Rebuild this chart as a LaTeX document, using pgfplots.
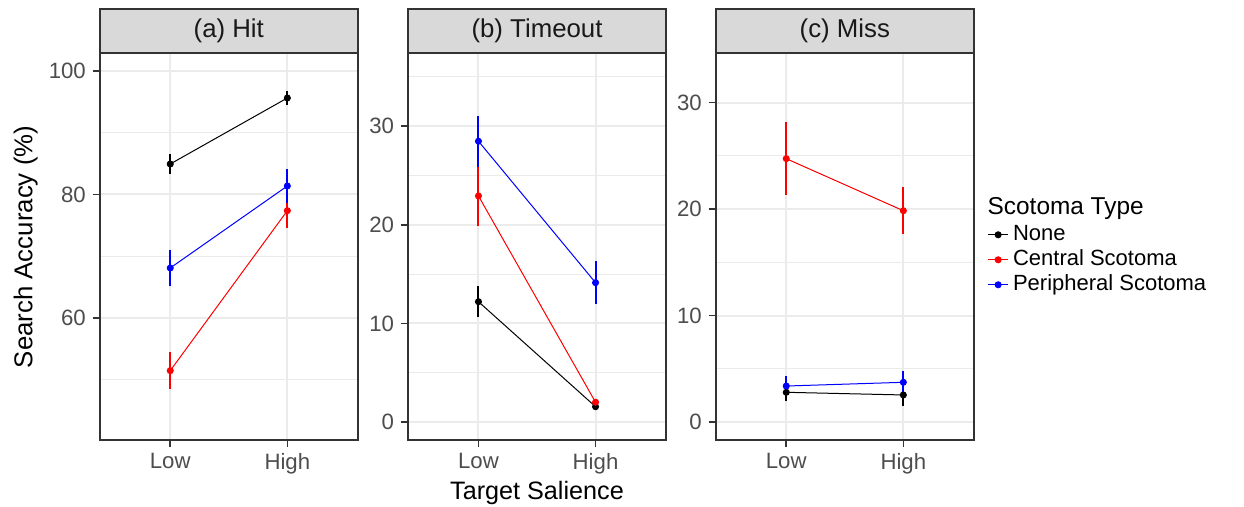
\documentclass[border=0pt]{standalone}
\usepackage{pgfplots}
\pgfplotsset{compat=1.18}
\usepackage{fontspec}
\setmainfont{Liberation Sans}
\definecolor{gridc}{HTML}{EBEBEB}
\definecolor{border}{HTML}{333333}
\definecolor{stripf}{HTML}{D9D9D9}
\definecolor{ticklab}{HTML}{4D4D4D}
\pgfplotsset{
  panel/.style={
    scale only axis, width=128.8pt, height=193.35pt,
    anchor=south west,
    xmin=-0.6, xmax=1.6, xtick={0,1}, xticklabels={Low,High},
    axis line style={border, line width=1pt},
    tick style={border, line width=0.8pt},
    tick align=outside, major tick length=3.7pt, minor tick length=0pt,
    tick pos=left,
    ymajorgrids, yminorgrids, xmajorgrids,
    major grid style={gridc, line width=1pt},
    minor grid style={gridc, line width=0.5pt},
    tick label style={font=\fontsize{11.1}{13}\selectfont, text=ticklab},
    /pgf/number format/assume math mode=true,
    xticklabel style={anchor=north, inner sep=0pt, yshift=-2.65pt},
    yticklabel style={anchor=east, inner sep=0pt, xshift=-3.2pt},
    clip=false,
  },
  sNone/.style={black, line width=0.5pt, mark=*, mark size=1.5pt, mark options={solid},
    error bars/.cd, y dir=both, y explicit, error mark=none, error bar style={line width=1pt, black}},
  sCen/.style={red, line width=0.5pt, mark=*, mark size=1.5pt, mark options={solid},
    error bars/.cd, y dir=both, y explicit, error mark=none, error bar style={line width=1pt, red}},
  sPer/.style={blue, line width=0.5pt, mark=*, mark size=1.5pt, mark options={solid},
    error bars/.cd, y dir=both, y explicit, error mark=none, error bar style={line width=1pt, blue}},
}
\newcommand{\strip}[1]{%
  \draw[border, line width=1pt, fill=stripf] (rel axis cs:0,1) rectangle ([yshift=22.15pt]rel axis cs:1,1);
  \node[font=\fontsize{12.9}{15}\selectfont, text=black!90] at ([yshift=11.07pt]rel axis cs:0.5,1) {#1};}
\begin{document}
\begin{tikzpicture}
\useasboundingbox (0,0) rectangle (622pt,253.5pt);
% (a) Hit
\begin{axis}[panel, at={(50pt,33.5pt)}, ymin=40.24, ymax=102.87,
  ytick={60,80,100}, minor ytick={50,70,90}]
\addplot[sNone] coordinates {(0,84.94) +- (0,1.55) (1,95.63) +- (0,1.15)};
\addplot[sCen] coordinates {(0,51.47) +- (0,3.0) (1,77.38) +- (0,2.8)};
\addplot[sPer] coordinates {(0,68.10) +- (0,2.85) (1,81.38) +- (0,2.7)};
\strip{(a) Hit}
\end{axis}
% (b) Timeout
\begin{axis}[panel, at={(204.1pt,33.5pt)}, ymin=-1.83, ymax=37.4,
  ytick={0,10,20,30}, minor ytick={5,15,25,35}]
\addplot[sNone] coordinates {(0,12.20) +- (0,1.6) (1,1.55) +- (0,0.35)};
\addplot[sCen] coordinates {(0,22.93) +- (0,3.1) (1,2.00) +- (0,0.3)};
\addplot[sPer] coordinates {(0,28.48) +- (0,2.6) (1,14.13) +- (0,2.2)};
\strip{(b) Timeout}
\end{axis}
% (c) Miss
\begin{axis}[panel, at={(358pt,33.5pt)}, ymin=-1.69, ymax=34.64,
  ytick={0,10,20,30}, minor ytick={5,15,25},
  legend image code/.code={\draw[mark repeat=2,mark phase=2,#1] plot coordinates {(0pt,0pt) (5pt,0pt) (10pt,0pt)};},
  legend cell align=left,
  legend style={draw=none, fill=none, inner sep=0pt, outer sep=0pt,
    at={(axis description cs:1.0545,0.466)}, anchor=west,
    row sep=0pt, font=\fontsize{11}{13}\selectfont,
    /tikz/every odd column/.append style={column sep=1.2pt},
    nodes={inner sep=1pt, text height=8pt, text depth=2.5pt}}]
\addplot[sNone] coordinates {(0,2.79) +- (0,0.85) (1,2.54) +- (0,1.0)};
\addlegendentry{None}
\addplot[sCen] coordinates {(0,24.74) +- (0,3.4) (1,19.85) +- (0,2.2)};
\addlegendentry{Central Scotoma}
\addplot[sPer] coordinates {(0,3.38) +- (0,0.9) (1,3.73) +- (0,1.05)};
\addlegendentry{Peripheral Scotoma}
\strip{(c) Miss}
\end{axis}
\node[rotate=90, anchor=center, font=\fontsize{12.9}{15}\selectfont] at (12.9pt,130pt) {Search Accuracy (\%)};
\node[anchor=base, font=\fontsize{12.6}{15}\selectfont] at (268.5pt,3.5pt) {Target Salience};
\node[anchor=base west, inner sep=0pt, font=\fontsize{12.2}{15}\selectfont] at (493.65pt,146pt) {Scotoma Type};
\end{tikzpicture}
\end{document}
